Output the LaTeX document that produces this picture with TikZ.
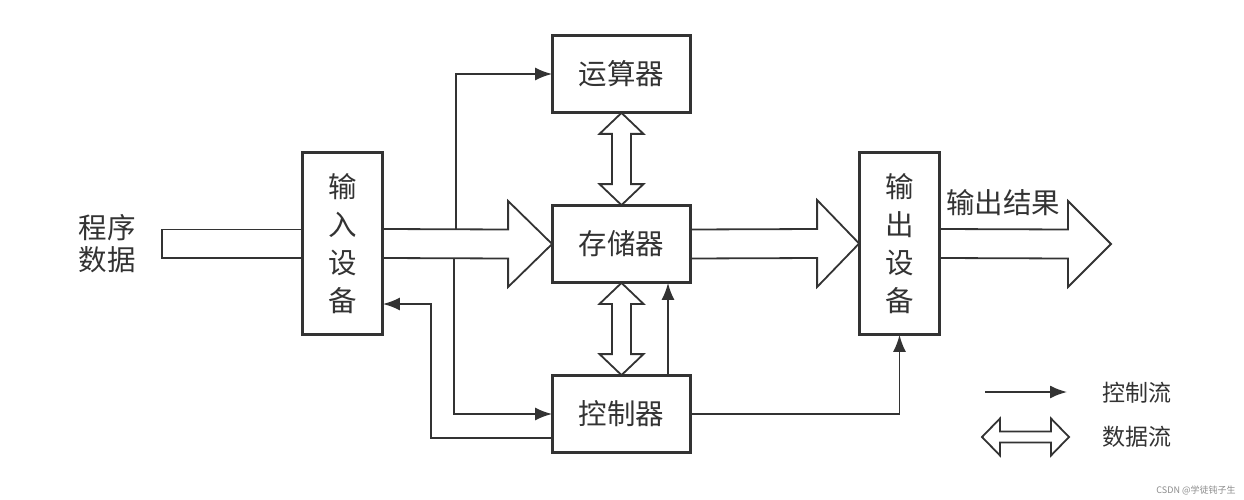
\documentclass[tikz,border=0pt]{standalone}
\usepackage{fontspec}
\newfontfamily\cjk{Noto Sans CJK SC}
\usetikzlibrary{arrows.meta,calc}
\definecolor{ink}{HTML}{333333}
\newcommand\fatH[5]{% start, tip, halfshaft, halfhead, headlen
  \draw[fat] ($(#1)+(0,-#3)$) -- ($(#2)+(-#5,-#3)$) -- ($(#2)+(-#5,-#4)$) -- (#2) -- ($(#2)+(-#5,#4)$) -- ($(#2)+(-#5,#3)$) -- ($(#1)+(0,#3)$);}
\newcommand\dblV[5]{% top tip, bottom tip, halfshaft, halfhead, headlen
  \draw[fat] (#1) -- ($(#1)+(#4,#5)$) -- ($(#1)+(#3,#5)$) -- ($(#2)+(#3,-#5)$) -- ($(#2)+(#4,-#5)$) -- (#2) -- ($(#2)+(-#4,-#5)$) -- ($(#2)+(-#3,-#5)$) -- ($(#1)+(-#3,#5)$) -- ($(#1)+(-#4,#5)$) -- cycle;}
\newcommand\dblH[5]{% left tip, right tip, halfshaft, halfhead, headlen
  \draw[fat] (#1) -- ($(#1)+(#5,-#4)$) -- ($(#1)+(#5,-#3)$) -- ($(#2)+(-#5,-#3)$) -- ($(#2)+(-#5,-#4)$) -- (#2) -- ($(#2)+(-#5,#4)$) -- ($(#2)+(-#5,#3)$) -- ($(#1)+(#5,#3)$) -- ($(#1)+(#5,#4)$) -- cycle;}
\begin{document}
\begin{tikzpicture}[x=1pt,y=-1pt,
  box/.style={draw=ink,line width=1.8pt,fill=white,inner sep=0pt,font=\cjk\fontsize{28.5}{38}\selectfont,text=ink,align=center},
  ctrl/.style={draw=ink,line width=1.8pt,-{Latex[length=17pt,width=13pt]}},
  fat/.style={draw=ink,line width=1.8pt,fill=white,line join=miter},
  lbl/.style={font=\cjk\fontsize{28.5}{32}\selectfont,text=ink,align=center,inner sep=0pt},
  leg/.style={font=\cjk\fontsize{23}{26}\selectfont,text=ink,inner sep=0pt}]
\useasboundingbox[fill=white] (0,0) rectangle (1244,500);

% box positions (drawn later)
\coordinate (inC) at (342.5,243.5);
\coordinate (outC) at (899.5,243.5);
\coordinate (aluC) at (621.5,74);
\coordinate (memC) at (621.5,244);
\coordinate (ctlC) at (621.5,414);

% boxes as nodes
\node[box,minimum width=79pt,minimum height=181pt] (in) at (inC) {输\\入\\设\\备};
\node[box,minimum width=79pt,minimum height=181pt] (out) at (outC) {输\\出\\设\\备};
\node[box,minimum width=137pt,minimum height=76pt] (alu) at (aluC) {运算器};
\node[box,minimum width=137pt,minimum height=76pt] (mem) at (memC) {存储器};
\node[box,minimum width=137pt,minimum height=76pt] (ctl) at (ctlC) {控制器};

% labels
\node[lbl] (prog) at (107,244) {程序\\数据};
\node[lbl] (res) at (1003,203) {输出结果};

% helper coordinates
\coordinate (c1) at (456,230);
\coordinate (c2) at (454,258);
\coordinate (b1) at (431,438);
\coordinate (b2) at (431,304);

% control flow
\draw[ctrl] (c1) |- (alu.west);
\draw[ctrl] (c2) |- (ctl.west);
\draw[ctrl] (ctl.west |- b1) -- (b1) -- (b2) -- (in.east |- b2);
\draw[ctrl] (ctl.north -| 668,0) -- (mem.south -| 668,0);
\draw[ctrl] (ctl.east) -| (out.south);

% data flow
\draw[fat] (in.west |- 0,229.5) -- (162,229.5) -- (162,258) -- (in.west |- 0,258);
\fatH{in.east}{mem.west}{14.5}{43}{44}
\fatH{mem.east}{out.west}{14.5}{43.5}{42}
\coordinate (tipout) at (1111,244);
\fatH{out.east}{tipout}{14.5}{43}{43}
\dblV{alu.south}{mem.north}{9.5}{22}{21}
\dblV{mem.south}{ctl.north}{9.5}{22}{21}

% redraw box borders on top
\foreach \n in {in,out,alu,mem,ctl}{\draw[ink,line width=1.8pt] (\n.south west) rectangle (\n.north east);}

% legend
\coordinate (lc1) at (985,392);
\coordinate (lc2) at (1067,392);
\coordinate (ld1) at (982,437);
\coordinate (ld2) at (1069,437);
\draw[ctrl] (lc1) -- (lc2);
\dblH{ld1}{ld2}{5.5}{18.5}{18}
\node[leg] (l1) at (1137,393) {控制流};
\node[leg] (l2) at (1137,437) {数据流};

% watermark
\node[font=\cjk\fontsize{9}{10}\selectfont,text=black!45,inner sep=0pt] (wm) at (1196,490) {CSDN @学徒钝子生};
\end{tikzpicture}
\end{document}
